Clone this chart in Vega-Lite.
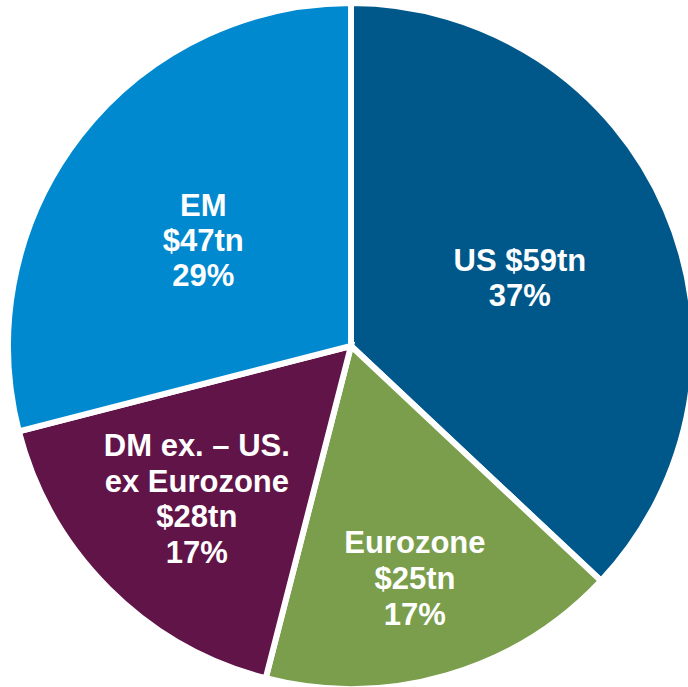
{
  "$schema": "https://vega.github.io/schema/vega-lite/v6.json",
  "width": 688,
  "height": 687,
  "autosize": {"type": "fit", "contains": "padding"},
  "padding": {"left": 14, "top": 5, "right": 0, "bottom": 0},
  "background": "white",
  "config": {"view": {"stroke": null}},
  "data": {
    "values": [
      {"region": "US", "share": 37, "order": 1, "label": "US $59tn\n37%"},
      {"region": "Eurozone", "share": 17, "order": 2, "label": "Eurozone\n$25tn\n17%"},
      {"region": "DM", "share": 17, "order": 3, "label": "DM ex. – US.\nex Eurozone\n$28tn\n17%"},
      {"region": "EM", "share": 29, "order": 4, "label": "EM\n$47tn\n29%"}
    ]
  },
  "encoding": {
    "theta": {"field": "share", "type": "quantitative", "stack": true},
    "order": {"field": "order", "type": "quantitative"},
    "color": {
      "field": "region",
      "type": "nominal",
      "scale": {
        "domain": ["US", "Eurozone", "DM", "EM"],
        "range": ["#00578A", "#7A9E4B", "#611447", "#0089CF"]
      },
      "legend": null
    }
  },
  "layer": [
    {
      "mark": {"type": "arc", "outerRadius": 343, "stroke": "white", "strokeWidth": 6}
    },
    {
      "mark": {"type": "text", "radius": 184, "dy": -11, "font": "Liberation Sans", "fontWeight": "bold", "fontSize": 31, "lineHeight": 35, "lineBreak": "\n", "align": "center", "baseline": "middle"},
      "encoding": {
        "text": {"condition": {"test": "datum.region === 'US'", "field": "label", "type": "nominal"}, "value": ""},
        "color": {"value": "white"}
      }
    },
    {
      "mark": {"type": "text", "radius": 187, "dy": -24, "font": "Liberation Sans", "fontWeight": "bold", "fontSize": 31, "lineHeight": 35, "lineBreak": "\n", "align": "center", "baseline": "middle"},
      "encoding": {
        "text": {"condition": {"test": "datum.region === 'EM'", "field": "label", "type": "nominal"}, "value": ""},
        "color": {"value": "white"}
      }
    },
    {
      "mark": {"type": "text", "radius": 229, "dy": -22, "font": "Liberation Sans", "fontWeight": "bold", "fontSize": 31, "lineHeight": 36, "lineBreak": "\n", "align": "center", "baseline": "middle"},
      "encoding": {
        "text": {"condition": {"test": "datum.region === 'Eurozone'", "field": "label", "type": "nominal"}, "value": ""},
        "color": {"value": "white"}
      }
    },
    {
      "mark": {"type": "text", "radius": 218, "dy": -53, "font": "Liberation Sans", "fontWeight": "bold", "fontSize": 31, "lineHeight": 35.5, "lineBreak": "\n", "align": "center", "baseline": "middle"},
      "encoding": {
        "text": {"condition": {"test": "datum.region === 'DM'", "field": "label", "type": "nominal"}, "value": ""},
        "color": {"value": "white"}
      }
    }
  ]
}
